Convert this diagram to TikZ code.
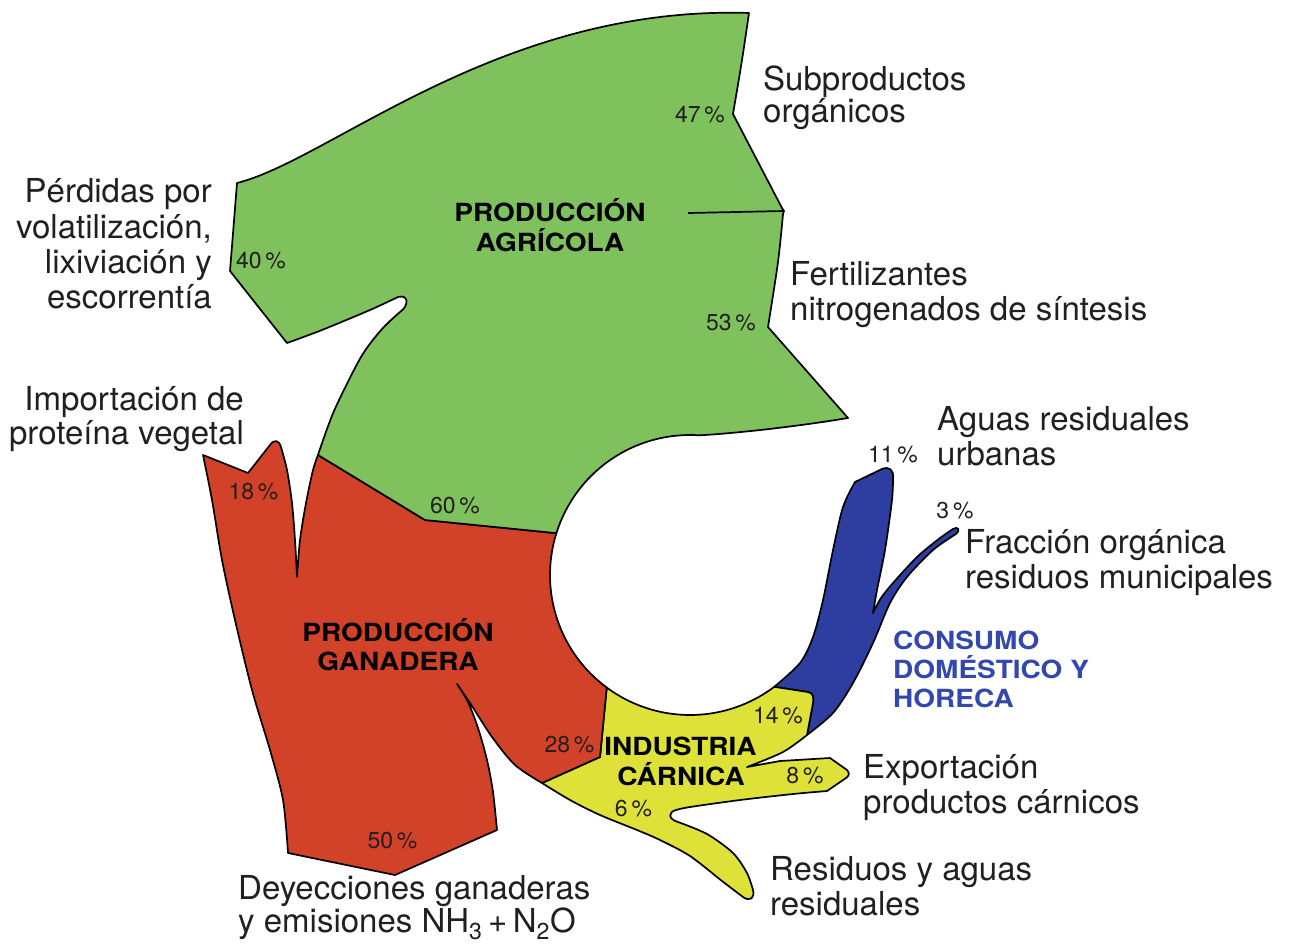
\documentclass[tikz,border=0pt]{standalone}
\usepackage{fontspec}
\setmainfont{TeX Gyre Heros}
\newfontfamily\boldfam{TeX Gyre Heros}[FakeStretch=1.12]
\definecolor{cgreen}{RGB}{126,193,93}
\definecolor{cred}{RGB}{209,66,41}
\definecolor{cyellow}{RGB}{222,226,56}
\definecolor{cblue}{RGB}{45,62,160}
\definecolor{cbluetext}{RGB}{50,72,175}
\definecolor{txt}{RGB}{35,31,32}
\tikzset{
  lab/.style={font=\fontsize{33}{35}\selectfont, inner sep=0pt, text=txt},
  pct/.style={font=\fontsize{23}{25}\selectfont, inner sep=0pt, anchor=base, text=txt},
  big/.style={font=\boldfam\bfseries\fontsize{25}{29}\selectfont, inner sep=0pt, anchor=base, text=black},
  bluebig/.style={big, text=cbluetext, anchor=base west},
  flow/.style={draw=black, line width=1.7pt, line join=round},
}
\begin{document}
\begin{tikzpicture}[x=1pt,y=-1pt]
\useasboundingbox (0,0) rectangle (1289,945);
\fill[white] (0,0) rectangle (1289,945);

% blue: consumo domestico
\path[flow, fill=cblue] (774.3,686.8)
  -- plot[smooth] coordinates {(774.3,686.8) (800,663) (813,637) (823,600) (833,550) (843,507) (855,482)}
  -- (882,469) .. controls (889,466) and (894,470) .. (893,478)
  -- plot[smooth] coordinates {(893,478) (892,500) (885,550) (877,590) (873,613)}
  -- plot[smooth] coordinates {(873,613) (881,598) (893,583) (917,557) (940,538) (953,529)}
  .. controls (958,526) and (961,530) .. (956,534)
  -- plot[smooth] coordinates {(956,534) (933,550) (907,577) (890,603) (873,643) (853,683) (833,713) (807,735)}
  -- (813,703) .. controls (814,697) and (813,693) .. (808,692) -- cycle;

% yellow: industria carnica
\path[flow, fill=cyellow] (606.7,687.6)
  -- plot[domain=126.5:53, samples=40, variable=\t] ({690+140*cos(\t)},{575+140*sin(\t)})
  -- (808,692) .. controls (813,693) and (814,697) .. (813,703) -- (807,735)
  -- plot[smooth] coordinates {(807,735) (783,752) (747,767)}
  -- (780,761) -- (830,758) -- (847,770) .. controls (850,773) and (849,776) .. (846,778) -- (827,791)
  -- plot[smooth] coordinates {(827,791) (793,794) (740,800) (690,807) (676,810)}
  .. controls (668,812) and (668,819) .. (678,822)
  -- plot[smooth] coordinates {(678,822) (707,834) (733,853) (747,873) (753,890)}
  .. controls (755,898) and (750,902) .. (743,897)
  -- plot[smooth] coordinates {(743,897) (722,881) (690,856) (660,840) (637,830) (600,815) (570,800) (542,783)}
  -- (600,757) -- cycle;

% red: produccion ganadera
\path[flow, fill=cred] (318,455) -- (425,520) -- (556.4,533.2)
  -- plot[domain=197.4:126.5, samples=40, variable=\t] ({690+140*cos(\t)},{575+140*sin(\t)})
  -- (600,757) -- (542,783)
  -- plot[smooth] coordinates {(542,783) (515,765) (492,737) (472,706) (457,684)}
  -- plot[smooth] coordinates {(457,684) (468,702) (478,728) (487,760) (493,792) (497,830)}
  -- (395,875) -- (288,853)
  -- plot[smooth] coordinates {(288,853) (283,800) (270,750) (252,690) (235,620) (222,560) (212,500) (203,455)}
  -- (248,473) -- (270,445) .. controls (274,439) and (279,440) .. (281,447)
  -- plot[smooth] coordinates {(281,447) (287,470) (292,503) (295,540) (297,577)}
  -- plot[smooth] coordinates {(297,577) (300,540) (306,503) (313,470) (318,455)}
  -- cycle;

% green: produccion agricola
\path[flow, fill=cgreen] (749,13)
  -- plot[smooth] coordinates {(749,13) (742,60) (733,114)}
  -- (782,208) -- (784,211) -- (783,214)
  -- plot[smooth] coordinates {(783,214) (778,262) (768,327)}
  -- (848,418) .. controls (800,426) and (740,433) .. (699.8,435.3)
  -- plot[domain=-86:-162.6, samples=40, variable=\t] ({690+140*cos(\t)},{575+140*sin(\t)})
  -- (425,520) -- (318,455)
  -- plot[smooth] coordinates {(318,455) (334,411) (361,357) (382,329) (400,312)}
  .. controls (409,306) and (409,294) .. (398,297)
  -- plot[smooth] coordinates {(398,297) (370,310) (322,330) (287,343)}
  -- (230,271) -- (237,183)
  .. controls (330,160) and (500,5) .. (749,13)
  -- cycle;
\coordinate (splitA) at (688,213);
\coordinate (splitB) at (784,211);
\draw[line width=1.7pt] (splitA) -- (splitB);

% bold titles
\node[big] (agr1) at (550,221) {PRODUCCIÓN};
\node[big] (agr2) at (550,251) {AGRÍCOLA};
\node[big] (gan1) at (398,641) {PRODUCCIÓN};
\node[big] (gan2) at (398,670) {GANADERA};
\node[big] (ind1) at (680.5,755) {INDUSTRIA};
\node[big] (ind2) at (681,785) {CÁRNICA};
\node[bluebig] (con1) at (893,649) {CONSUMO};
\node[bluebig] (con2) at (893,678) {DOMÉSTICO Y};
\node[bluebig] (con3) at (893,707) {HORECA};

% percentages
\node[pct] (p47) at (700,122) {47\,\%};
\node[pct] (p40) at (261,268) {40\,\%};
\node[pct] (p53) at (731,330) {53\,\%};
\node[pct] (p18) at (253.5,499) {18\,\%};
\node[pct] (p60) at (455,513) {60\,\%};
\node[pct] (p11) at (893,462) {11\,\%};
\node[pct] (p3) at (955,518) {3\,\%};
\node[pct] (p14) at (778,723) {14\,\%};
\node[pct] (p28) at (569.5,752) {28\,\%};
\node[pct] (p8) at (805,783) {8\,\%};
\node[pct] (p6) at (633.5,816.5) {6\,\%};
\node[pct] (p50) at (392.5,848) {50\,\%};

% outer labels
\node[lab, anchor=base west] (sub1) at (763,90) {Subproductos};
\node[lab, anchor=base west] (sub2) at (763,122) {orgánicos};
\node[lab, anchor=base east] (per1) at (212,202) {Pérdidas por};
\node[lab, anchor=base east] (per2) at (212,238) {volatilización,};
\node[lab, anchor=base east] (per3) at (212,273) {lixiviación y};
\node[lab, anchor=base east] (per4) at (212,308) {escorrentía};
\node[lab, anchor=base west] (fer1) at (790,285) {Fertilizantes};
\node[lab, anchor=base west] (fer2) at (790,320) {nitrogenados de síntesis};
\node[lab, anchor=base east] (imp1) at (244,410) {Importación de};
\node[lab, anchor=base east] (imp2) at (244,444) {proteína vegetal};
\node[lab, anchor=base west] (agu1) at (937,430) {Aguas residuales};
\node[lab, anchor=base west] (agu2) at (937,465) {urbanas};
\node[lab, anchor=base west] (fra1) at (965,553) {Fracción orgánica};
\node[lab, anchor=base west] (fra2) at (965,588) {residuos municipales};
\node[lab, anchor=base west] (exp1) at (863,778) {Exportación};
\node[lab, anchor=base west] (exp2) at (863,813) {productos cárnicos};
\node[lab, anchor=base west] (res1) at (770,880) {Residuos y aguas};
\node[lab, anchor=base west] (res2) at (770,915) {residuales};
\node[lab, anchor=base west] (dey1) at (238,899) {Deyecciones ganaderas};
\node[lab, anchor=base west] (dey2) at (238,932) {y emisiones NH\textsubscript{3}\,+\,N\textsubscript{2}O};
\end{tikzpicture}
\end{document}
